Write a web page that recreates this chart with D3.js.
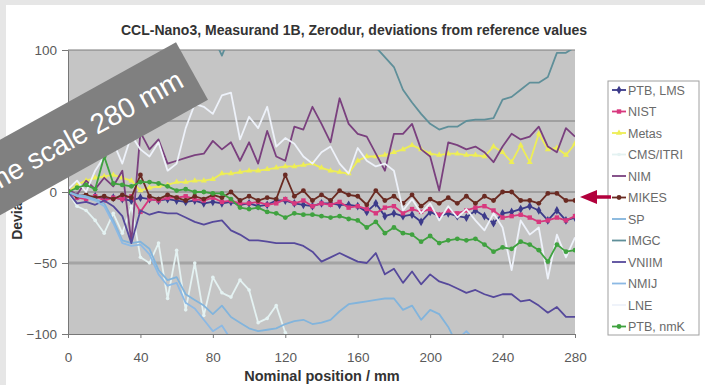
<!DOCTYPE html>
<html>
<head>
<meta charset="utf-8">
<script src="https://cdn.jsdelivr.net/npm/d3@7"></script>
<style>
  body { margin: 0; background: #e6e6e6; }
  svg { display: block; }
  text { font-family: "Liberation Sans", Arial, sans-serif; }
</style>
</head>
<body>
<svg id="chart" width="705" height="385"></svg>
<script>
// nominal positions / mm
var positions = [0,5,10,15,20,25,30,35,40,45,50,55,60,65,70,75,80,85,90,95,100,105,110,115,120,125,130,135,140,145,150,155,160,165,170,175,180,185,190,195,200,205,210,215,220,225,230,235,240,245,250,255,260,265,270,275,280];
var xTicks = [0,40,80,120,160,200,240,280];
var yTicks = [-100,-50,0,50,100];

// deviations / nm
var ptbLms = [0,-3,-4,-3,-5,-4,-5,-6,-4,-5,-6,-5,-6,-7,-6,-8,-7,-8,-7,-9,-8,-10,-9,-6,-6,-8,-9,-10,-8,-8,-9,-9,-10,-14,-8,-17,-15,-17,-16,-21,-14,-17,-15,-17,-18,-13,-17,-22,-15,-14,-12,-10,-13,-20,-13,-20,-18];
var nist = [0,-4,-5,-3,-6,-4,-5,-3,-14,-5,-6,-4,-4,-3,-5,-6,-4,-7,-6,-8,-8,-7,-9,-8,-5,-8,-6,-10,-8,-9,-7,-11,-10,-12,-15,-11,-10,-15,-12,-14,-12,-16,-13,-15,-13,-11,-10,-13,-18,-17,-16,-18,-21,-20,-18,-20,-17];
var metas = [0,5,8,10,11,12,10,8,1,3,4,5,7,7,8,8,9,13,13,14,15,15,16,17,18,18,19,20,17,15,14,13,22,25,25,26,28,30,33,30,27,26,27,27,26,26,25,32,28,21,33,21,41,30,31,26,34];
var cmsItri = [0,-10,-13,-20,-29,-15,-29,-10,-46,-50,-36,-75,-41,-83,-50,-87,-60,-71,-74,-62,-69,-92,-89,-80,-99,-106,-112,-110,-115,-112,-118,-115,-120,-118,-122,-120,-118,-121,-119,-122,-120,-118,-121,-117,-120,-122,-119,-121,-118,-120,-122,-119,-121,-118,-120,-119,-121];
var nim = [2,-2,8,2,10,4,15,-35,42,30,37,20,22,24,26,27,36,30,35,22,35,20,43,25,22,46,44,60,48,35,66,48,41,39,27,15,41,41,48,30,25,1,35,33,30,32,28,21,32,41,37,39,46,32,28,45,39];
var mikes = [0,-3,-2,-4,-3,-5,-2,-4,12,-3,-5,-2,-4,-6,-3,-5,-2,-4,0,-6,-3,-6,-4,-5,12,-3,1,-6,-2,-6,1,-2,-3,-9,1,-6,-3,-8,-2,-10,-5,-8,-4,-8,-3,-8,-3,-6,0,0,-6,-6,-8,-1,-1,-6,-6];
var sp = [0,-2,-3,-5,-8,-20,-34,-36,-35,-40,-55,-62,-60,-72,-76,-80,-86,-80,-88,-92,-96,-98,-97,-96,-93,-91,-90,-93,-92,-90,-84,-79,-78,-77,-76,-75,-75,-83,-80,-90,-83,-86,-95,-108,-112,-115,-118,-116,-120,-118,-121,-119,-122,-120,-118,-121,-120];
var imgc = [120,122,118,121,119,123,120,118,121,117,119,120,118,122,120,118,110,96,112,118,121,119,122,120,118,121,119,122,120,118,121,119,117,115,102,95,88,72,63,55,48,44,46,46,50,51,51,52,65,67,72,77,77,81,98,98,102];
var vniim = [0,-8,-7,-9,-6,-10,-17,-36,-13,-16,-14,-15,-15,-18,-21,-23,-21,-20,-27,-30,-34,-34,-35,-36,-36,-36,-38,-42,-49,-46,-43,-46,-49,-50,-43,-58,-54,-64,-56,-65,-58,-63,-65,-68,-71,-69,-72,-74,-72,-72,-77,-76,-80,-85,-81,-88,-88];
var nmij = [0,-3,-4,-6,-10,-22,-36,-38,-37,-44,-58,-66,-64,-78,-82,-90,-98,-94,-104,-108,-110,-112,-111,-113,-115,-112,-114,-116,-113,-115,-117,-114,-116,-118,-115,-117,-119,-116,-118,-115,-113,-110,-106,-104,-98,-105,-110,-112,-114,-116,-115,-117,-118,-116,-119,-117,-118];
var lne = [2,8,0,15,25,35,20,40,30,25,35,15,20,45,62,60,55,68,70,37,53,45,60,32,38,34,25,20,28,32,20,13,31,22,18,20,15,-13,-5,-15,-8,-20,-10,-18,-12,-20,-27,-15,-25,-55,-20,-30,-25,-61,-30,-46,-32];
var ptbNmk = [0,3,5,2,25,6,5,4,7,7,6,4,1,2,0,0,-1,-1,-5,-11,-12,-11,-14,-15,-18,-15,-16,-16,-17,-18,-17,-19,-20,-25,-21,-29,-25,-29,-30,-35,-31,-36,-34,-33,-34,-33,-37,-42,-39,-40,-35,-37,-41,-49,-37,-42,-41];

var names = ["PTB, LMS","NIST","Metas","CMS/ITRI","NIM","MIKES","SP","IMGC","VNIIM","NMIJ","LNE","PTB, nmK"];
var values = [ptbLms, nist, metas, cmsItri, nim, mikes, sp, imgc, vniim, nmij, lne, ptbNmk];
var colors = ["#3c3a8a","#d8387e","#eeee55","#e4f2f2","#7a417e","#6a2b22","#82b4dc","#5f8f99","#56499b","#8cb9e4","#eef2fa","#3fa23f"];
var markers = ["diamond","square","triangle","dot",null,"circle",null,null,null,null,null,"circle"];

var svg = d3.select("#chart");

svg.append("filter").attr("id", "soft")
    .append("feGaussianBlur").attr("stdDeviation", 0.45);

// white page inside the grey frame
svg.append("rect")
    .attr("x", 6).attr("y", 5)
    .attr("width", 699).attr("height", 380)
    .attr("fill", "white");

var x = d3.scaleLinear().domain([0, 280]).range([68, 575]);
var y = d3.scaleLinear().domain([-100, 100]).range([334, 50]);

svg.append("text")
    .attr("x", 354).attr("y", 35)
    .attr("text-anchor", "middle")
    .attr("font-size", "14px")
    .attr("font-weight", "bold")
    .attr("fill", "#333")
    .text("CCL-Nano3, Measurand 1B, Zerodur, deviations from reference values");

// plot area
svg.append("rect")
    .attr("x", x(0)).attr("y", y(100))
    .attr("width", x(280) - x(0)).attr("height", y(-100) - y(100))
    .attr("fill", "#c5c5c5");

svg.append("clipPath").attr("id", "plotclip")
    .append("rect")
    .attr("x", x(0)).attr("y", y(100))
    .attr("width", x(280) - x(0)).attr("height", y(-100) - y(100));

yTicks.forEach(function(t) {
    if (t == -100) return;
    svg.append("line")
        .attr("x1", x(0)).attr("x2", x(280))
        .attr("y1", y(t)).attr("y2", y(t))
        .attr("stroke", t == -50 ? "#a4a4a4" : "#7c7c7c")
        .attr("stroke-width", t == -50 ? 3 : 1.2);
});

var line = d3.line()
    .defined(function(d) { return d != null; })
    .x(function(d, i) { return x(positions[i]); })
    .y(function(d) { return y(d); });

var plot = svg.append("g").attr("clip-path", "url(#plotclip)")
    .append("g").attr("filter", "url(#soft)");

function drawMarker(g, kind, cx, cy, color) {
    if (kind == "diamond") {
        g.append("path").attr("d", d3.symbol(d3.symbolDiamond, 22)())
            .attr("transform", "translate(" + cx + "," + cy + ")").attr("fill", color);
    } else if (kind == "square") {
        g.append("rect").attr("x", cx - 2.2).attr("y", cy - 2.2)
            .attr("width", 4.4).attr("height", 4.4).attr("fill", color);
    } else if (kind == "triangle") {
        g.append("path").attr("d", d3.symbol(d3.symbolTriangle, 16)())
            .attr("transform", "translate(" + cx + "," + cy + ")").attr("fill", color);
    } else if (kind == "dot") {
        g.append("circle").attr("cx", cx).attr("cy", cy).attr("r", 1.8).attr("fill", color);
    } else if (kind == "circle") {
        g.append("circle").attr("cx", cx).attr("cy", cy).attr("r", 2.4).attr("fill", color);
    }
}

values.forEach(function(vals, s) {
    var g = plot.append("g");
    g.append("path")
        .datum(vals)
        .attr("d", line)
        .attr("fill", "none")
        .attr("stroke", colors[s])
        .attr("stroke-width", 1.8)
        .attr("stroke-linejoin", "round");
    if (markers[s]) {
        vals.forEach(function(v, i) {
            drawMarker(g, markers[s], x(positions[i]), y(v), colors[s]);
        });
    }
});

// axes
var yAxis = svg.append("g")
    .attr("transform", "translate(" + x(0) + ",0)")
    .call(d3.axisLeft(y).tickValues(yTicks).tickSize(6).tickPadding(5).tickSizeOuter(0));
var xAxis = svg.append("g")
    .attr("transform", "translate(0," + y(-100) + ")")
    .call(d3.axisBottom(x).tickValues(xTicks).tickSize(4).tickPadding(14).tickSizeOuter(0));
[yAxis, xAxis].forEach(function(a) {
    a.select(".domain").attr("stroke", "#777");
    a.selectAll(".tick line").attr("stroke", "#777");
    a.selectAll(".tick text")
        .attr("font-size", "13.5px")
        .attr("fill", "#5a5a5a")
        .attr("font-family", "Liberation Sans, Arial, sans-serif");
});

svg.append("text")
    .attr("x", 322).attr("y", 381)
    .attr("text-anchor", "middle")
    .attr("font-size", "14.5px")
    .attr("font-weight", "bold")
    .attr("fill", "#333")
    .text("Nominal position / mm");

svg.append("text")
    .attr("transform", "translate(22,192) rotate(-90)")
    .attr("text-anchor", "middle")
    .attr("font-size", "14px")
    .attr("font-weight", "bold")
    .attr("fill", "#333")
    .text("Deviation / nm");

// legend
var legend = svg.append("g");
legend.append("rect")
    .attr("x", 608).attr("y", 81)
    .attr("width", 91).attr("height", 254)
    .attr("fill", "white")
    .attr("stroke", "#a0a0a0");
names.forEach(function(n, s) {
    var ly = 90 + s * 21.5;
    legend.append("line")
        .attr("x1", 612).attr("x2", 626)
        .attr("y1", ly).attr("y2", ly)
        .attr("stroke", colors[s]).attr("stroke-width", 1.8);
    if (markers[s]) drawMarker(legend, markers[s], 619, ly, colors[s]);
    legend.append("text")
        .attr("x", 628).attr("y", ly + 4.5)
        .attr("font-size", "12.5px")
        .attr("fill", "#6a6a6a")
        .text(n);
});

// red arrow pointing at MIKES
svg.append("line")
    .attr("x1", 595).attr("x2", 611)
    .attr("y1", 197).attr("y2", 197)
    .attr("stroke", "#b2003c").attr("stroke-width", 3.5);
svg.append("path")
    .attr("d", "M580,197L597,190L597,204Z")
    .attr("fill", "#b2003c");

// grey banner across the corner
var banner = svg.append("g").attr("transform", "translate(192,71) rotate(-29)");
banner.append("rect")
    .attr("x", -420).attr("y", -33)
    .attr("width", 420).attr("height", 66)
    .attr("fill", "#808080");
banner.append("text")
    .attr("x", -13).attr("y", 10)
    .attr("text-anchor", "end")
    .attr("font-family", "Open Sans, sans-serif")
    .attr("font-size", "28px")
    .attr("fill", "white")
    .text("Same scale 280 mm");
</script>
</body>
</html>
